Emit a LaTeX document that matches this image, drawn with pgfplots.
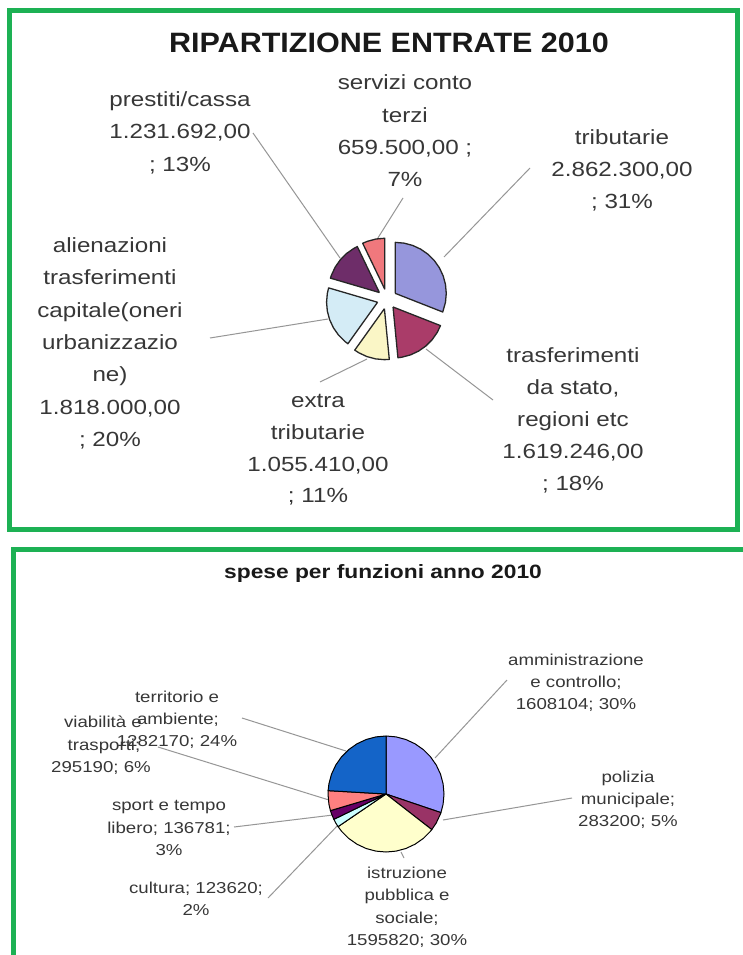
\documentclass[border=0pt]{standalone}
\usepackage{pgfplots}
\pgfplotsset{compat=1.18}
\usepackage{fontspec}
\setmainfont{Liberation Sans}
\newfontfamily\lsx{Liberation Sans}[FakeStretch=1.18]
\newfontfamily\lst{Liberation Sans}[FakeStretch=1.09]
\definecolor{frame}{RGB}{29,177,84}
\definecolor{txt}{RGB}{55,55,55}
\definecolor{lead}{RGB}{150,150,150}
\definecolor{cLav}{RGB}{153,153,255}
\definecolor{cPlum}{RGB}{153,51,102}
\definecolor{cYel}{RGB}{255,255,204}
\definecolor{cCya}{RGB}{204,255,255}
\definecolor{cPur}{RGB}{102,0,102}
\definecolor{cCor}{RGB}{255,128,128}
\definecolor{cBlu}{RGB}{20,100,200}
\definecolor{tLav}{RGB}{150,150,220}
\definecolor{tPlum}{RGB}{170,60,105}
\definecolor{tYel}{RGB}{250,246,198}
\definecolor{tCya}{RGB}{212,236,246}
\definecolor{tPur}{RGB}{110,45,105}
\definecolor{tCor}{RGB}{240,120,125}
\newcommand\TL[3]{\node[anchor=base,inner sep=0pt,text=txt] at (#1,-#2) {\lsx\fontsize{20.5}{24}\selectfont #3};}
\newcommand\BL[3]{\node[anchor=base,inner sep=0pt,text=txt] at (#1,-#2) {\lsx\fontsize{15.8}{19}\selectfont #3};}
\begin{document}
\begin{tikzpicture}[x=1pt,y=1pt]
\path[use as bounding box,fill=white] (0,0) rectangle (742,-955);
% frames
\draw[frame,line width=5pt] (9.5,-11) rectangle (737.5,-529.5);
\draw[frame,line width=5pt] (13,-549.5) rectangle (780,-990);
% leader lines top
\begin{scope}[lead,line width=1pt]
\draw (253,-133) -- (340,-258);
\draw (403,-198) -- (376,-241);
\draw (530,-168) -- (444,-257);
\draw (210,-338) -- (328,-319);
\draw (320,-382) -- (367,-359);
\draw (493,-400) -- (426,-349);
% bottom
\draw (507,-680) -- (435,-758);
\draw (572,-798) -- (443,-820);
\draw (401,-852) -- (404,-858);
\draw (268,-898) -- (340,-823);
\draw (234,-827) -- (333,-815);
\draw (158,-747) -- (329,-800);
\draw (242,-718) -- (346,-751);
\end{scope}
\begin{axis}[at={(0,0)},anchor=north west,x=1pt,y=1pt,xmin=0,xmax=742,ymin=-955,ymax=0,
  hide axis,clip=false,scale only axis]
% ---- top pie: RIPARTIZIONE ENTRATE 2010 (angle, radius) ----
\addplot[data cs=polar,fill=tLav,draw=black!85,line width=1.3pt,line join=round,xshift=395.26pt,yshift=-293.37pt]
 coordinates {(0,0) (-21.44,51) (-10,51) (0,51) (10,51) (20,51) (30,51) (40,51) (50,51) (60,51) (70,51) (80,51) (90,51) (0,0)};
\addplot[data cs=polar,fill=tPlum,draw=black!85,line width=1.3pt,line join=round,xshift=393.02pt,yshift=-306.98pt]
 coordinates {(0,0) (-84.49,51) (-80,51) (-70,51) (-60,51) (-50,51) (-40,51) (-30,51) (-21.44,51) (0,0)};
\addplot[data cs=polar,fill=tYel,draw=black!85,line width=1.3pt,line join=round,xshift=384.40pt,yshift=-308.66pt]
 coordinates {(0,0) (-125.58,51) (-120,51) (-110,51) (-100,51) (-90,51) (-84.49,51) (0,0)};
\addplot[data cs=polar,fill=tCya,draw=black!85,line width=1.3pt,line join=round,xshift=377.55pt,yshift=-302.26pt]
 coordinates {(0,0) (163.63,51) (170,51) (180,51) (190,51) (200,51) (210,51) (220,51) (230,51) (234.42,51) (0,0)};
\addplot[data cs=polar,fill=tPur,draw=black!85,line width=1.3pt,line join=round,xshift=379.38pt,yshift=-292.53pt]
 coordinates {(0,0) (115.68,51) (120,51) (130,51) (140,51) (150,51) (160,51) (163.63,51) (0,0)};
\addplot[data cs=polar,fill=tCor,draw=black!85,line width=1.3pt,line join=round,xshift=384.78pt,yshift=-289.25pt]
 coordinates {(0,0) (90,51) (100,51) (110,51) (115.68,51) (0,0)};
% ---- bottom pie: spese per funzioni anno 2010 ----
\addplot[data cs=polar,fill=cLav,draw=black,line width=1pt,line join=round,xshift=386pt,yshift=-794pt]
 coordinates {(0,0) (-18.72,58) (-10,58) (0,58) (10,58) (20,58) (30,58) (40,58) (50,58) (60,58) (70,58) (80,58) (90,58) (0,0)};
\addplot[data cs=polar,fill=cPlum,draw=black,line width=1pt,line join=round,xshift=386pt,yshift=-794pt]
 coordinates {(0,0) (-37.87,58) (-30,58) (-20,58) (-18.72,58) (0,0)};
\addplot[data cs=polar,fill=cYel,draw=black,line width=1pt,line join=round,xshift=386pt,yshift=-794pt]
 coordinates {(0,0) (-145.76,58) (-140,58) (-130,58) (-120,58) (-110,58) (-100,58) (-90,58) (-80,58) (-70,58) (-60,58) (-50,58) (-40,58) (-37.87,58) (0,0)};
\addplot[data cs=polar,fill=cCya,draw=black,line width=1pt,line join=round,xshift=386pt,yshift=-794pt]
 coordinates {(0,0) (-154.11,58) (-150,58) (-145.76,58) (0,0)};
\addplot[data cs=polar,fill=cPur,draw=black,line width=1pt,line join=round,xshift=386pt,yshift=-794pt]
 coordinates {(0,0) (-163.36,58) (-160,58) (-154.11,58) (0,0)};
\addplot[data cs=polar,fill=cCor,draw=black,line width=1pt,line join=round,xshift=386pt,yshift=-794pt]
 coordinates {(0,0) (-183.32,58) (-180,58) (-170,58) (-163.36,58) (0,0)};
\addplot[data cs=polar,fill=cBlu,draw=black,line width=1pt,line join=round,xshift=386pt,yshift=-794pt]
 coordinates {(0,0) (-270,58) (-260,58) (-250,58) (-240,58) (-230,58) (-220,58) (-210,58) (-200,58) (-190,58) (-183.32,58) (0,0)};
\end{axis}
% titles
\node[anchor=base,inner sep=0pt,text=black!90] at (389,-52.3) {\lst\bfseries\fontsize{28}{32}\selectfont RIPARTIZIONE ENTRATE 2010};
\node[anchor=base,inner sep=0pt,text=black!90] at (383,-578) {\lsx\bfseries\fontsize{19.3}{22}\selectfont spese per funzioni anno 2010};
% top labels
\TL{180}{107}{prestiti/cassa}
\TL{180}{139}{1.231.692,00}
\TL{180}{171}{; 13\%}
\TL{405}{90}{servizi conto}
\TL{405}{122}{terzi}
\TL{405}{154}{659.500,00 ;}
\TL{405}{186}{7\%}
\TL{622}{144}{tributarie}
\TL{622}{176}{2.862.300,00}
\TL{622}{208}{; 31\%}
\TL{110}{252}{alienazioni}
\TL{110}{284}{trasferimenti}
\TL{110}{317}{capitale(oneri}
\TL{110}{349}{urbanizzazio}
\TL{110}{381}{ne)}
\TL{110}{414}{1.818.000,00}
\TL{110}{446}{; 20\%}
\TL{318}{407}{extra}
\TL{318}{439}{tributarie}
\TL{318}{471}{1.055.410,00}
\TL{318}{502}{; 11\%}
\TL{573}{362}{trasferimenti}
\TL{573}{394}{da stato,}
\TL{573}{426}{regioni etc}
\TL{573}{458}{1.619.246,00}
\TL{573}{490}{; 18\%}
% bottom labels
\BL{576}{665}{amministrazione}
\BL{576}{687}{e controllo;}
\BL{576}{709}{1608104; 30\%}
\BL{628}{782}{polizia}
\BL{628}{804}{municipale;}
\BL{628}{826}{283200; 5\%}
\BL{407}{878}{istruzione}
\BL{407}{900.5}{pubblica e}
\BL{407}{923}{sociale;}
\BL{407}{945.5}{1595820; 30\%}
\BL{196}{893}{cultura; 123620;}
\BL{196}{915}{2\%}
\BL{169}{810}{sport e tempo}
\BL{169}{833}{libero; 136781;}
\BL{169}{855}{3\%}
\BL{177}{702}{territorio e}
\BL{178}{724}{ambiente;}
\BL{177}{746}{1282170; 24\%}
\BL{103}{727}{viabilità e}
\BL{104}{750}{trasporti;}
\BL{101}{772}{295190; 6\%}
\end{tikzpicture}
\end{document}
